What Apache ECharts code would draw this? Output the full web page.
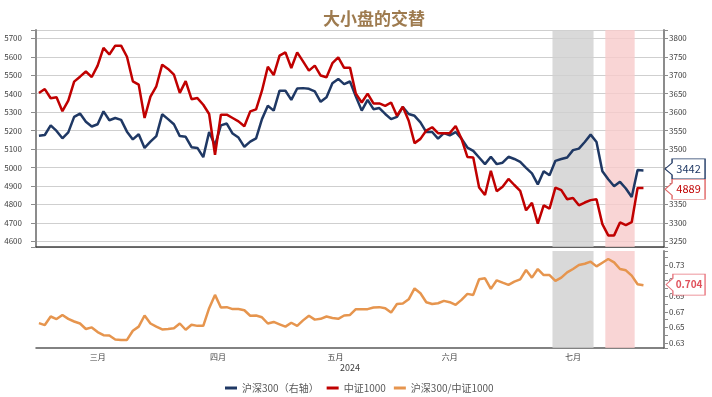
<!DOCTYPE html>
<html>
<head>
<meta charset="utf-8">
<script src="https://cdn.jsdelivr.net/npm/echarts@6/dist/echarts.min.js"></script>
<style>
  html, body { margin: 0; padding: 0; background: #fff; }
  #chart { width: 712px; height: 397px; }
</style>
</head>
<body>
<div id="chart"></div>
<script>
// trading days 2024-03-01 .. 2024-08-06
const holidays = ['2024-04-04', '2024-04-05', '2024-05-01', '2024-05-02', '2024-05-03', '2024-06-10'];
const monthNames = { '03': '三月', '04': '四月', '05': '五月', '06': '六月', '07': '七月' };

// 沪深300 (right axis)
const hs300 = [
  3536, 3538, 3564, 3549, 3529, 3545, 3587, 3596, 3574, 3561, 3567, 3602, 3578, 3584, 3579, 3547, 3526, 3540, 3503, 3520, 3535,
  3594, 3581, 3567, 3535, 3533, 3505, 3503, 3478, 3546, 3510, 3564, 3569, 3542, 3531, 3506, 3520, 3529, 3581, 3617, 3604,
  3658, 3658, 3633, 3664, 3665, 3663, 3656, 3628, 3640, 3678, 3690, 3676, 3683, 3642, 3604, 3633, 3608, 3611, 3595, 3581,
  3587, 3614, 3595, 3590, 3572, 3546, 3546, 3528, 3543, 3537, 3546, 3528, 3504, 3495, 3477, 3459, 3479, 3459, 3463,
  3479, 3473, 3465, 3449, 3434, 3404, 3440, 3429, 3468, 3473, 3477, 3497, 3501, 3519, 3539, 3519, 3440, 3418, 3399, 3411, 3393, 3370, 3443,
  3442
];
// 中证1000 (left axis)
const zz1000 = [
  5404, 5425, 5375, 5380, 5305, 5362, 5465, 5492, 5520, 5490, 5552, 5648, 5612, 5660, 5660, 5600, 5467, 5449, 5268, 5384, 5440,
  5557, 5534, 5503, 5404, 5468, 5370, 5376, 5340, 5290, 5069, 5286, 5286, 5268, 5250, 5223, 5304, 5315, 5416, 5546, 5501,
  5606, 5624, 5539, 5624, 5575, 5525, 5552, 5498, 5489, 5565, 5597, 5540, 5541, 5400, 5352, 5400, 5347, 5347, 5334, 5352,
  5280, 5329, 5253, 5132, 5155, 5200, 5218, 5186, 5186, 5186, 5225, 5155, 5057, 5054, 4892, 4851, 4982, 4871, 4896,
  4938, 4905, 4873, 4768, 4808, 4696, 4795, 4777, 4891, 4877, 4828, 4835, 4795, 4810, 4823, 4828, 4693, 4632, 4632, 4702, 4688, 4704, 4889,
  4889
];
// 沪深300/中证1000
const ratio = [
  0.6555, 0.653, 0.664, 0.6607, 0.666, 0.661, 0.6576, 0.655, 0.648, 0.650, 0.644, 0.640, 0.6396, 0.6346, 0.634, 0.634, 0.6457, 0.651, 0.6653, 0.655, 0.651,
  0.6474, 0.648, 0.649, 0.655, 0.647, 0.6534, 0.652, 0.652, 0.6747, 0.6917, 0.6755, 0.676, 0.6735, 0.6735, 0.672, 0.665, 0.6653, 0.663, 0.655, 0.657,
  0.654, 0.651, 0.656, 0.652, 0.659, 0.665, 0.660, 0.661, 0.664, 0.662, 0.661, 0.6653, 0.666, 0.6734, 0.6734, 0.6734, 0.6755, 0.676, 0.6747, 0.669,
  0.680, 0.6806, 0.686, 0.700, 0.6938, 0.6823, 0.680, 0.681, 0.684, 0.6823, 0.679, 0.6853, 0.693, 0.6917, 0.7117, 0.713, 0.6994, 0.7104, 0.7074,
  0.7045, 0.7087, 0.7117, 0.7236, 0.7138, 0.7249, 0.7172, 0.7172, 0.7096, 0.7138, 0.7206, 0.7249, 0.730, 0.7317, 0.7343, 0.7283, 0.733, 0.7377, 0.7334, 0.7249, 0.7232, 0.7164, 0.7053,
  0.704
];
const grayPeriod = ['2024-07-11', '2024-07-19'];
const pinkPeriod = ['2024-07-24', '2024-07-30'];

const dates = [];
for (let d = new Date(Date.UTC(2024, 2, 1)); d <= new Date(Date.UTC(2024, 7, 6)); d.setUTCDate(d.getUTCDate() + 1)) {
  const s = d.toISOString().slice(0, 10);
  const wd = d.getUTCDay();
  if (wd === 0 || wd === 6 || holidays.includes(s)) continue;
  dates.push(s);
}

// month boundaries + label slots
const monthStart = [];
const labelAt = {};
dates.forEach((s, i) => { if (i === 0 || s.slice(5, 7) !== dates[i - 1].slice(5, 7)) monthStart.push(i); });
monthStart.forEach((st, k) => {
  const m = dates[st].slice(5, 7);
  if (!monthNames[m]) return;
  const n = (monthStart[k + 1] || dates.length) - st;
  if (n % 2) labelAt[st + (n - 1) / 2] = monthNames[m];
  else labelAt[st + n / 2 - 1] = '{s|' + monthNames[m] + '}';
});

const callout = 'path://M0,10L7,4L7,0L40,0L40,20L7,20L7,16Z';
const lastCat = dates[dates.length - 1];
const font = "'Microsoft YaHei', 'Noto Sans CJK SC', sans-serif";

const chart = echarts.init(document.getElementById('chart'));

const option = {
  animation: false,
  textStyle: { fontFamily: font },
  title: {
    text: '大小盘的交替',
    left: 318,
    top: 5,
    textStyle: { fontSize: 17, fontWeight: 'bold', color: '#9e7b4f', fontFamily: font }
  },
  legend: {
    data: ['沪深300（右轴）', '中证1000', '沪深300/中证1000'],
    left: 225,
    top: 383,
    padding: 0,
    icon: 'rect',
    itemWidth: 12,
    itemHeight: 3,
    itemGap: 8,
    textStyle: { fontSize: 10, color: '#595959' }
  },
  grid: [
    { left: 36, right: 48, top: 30, height: 217 },
    { left: 36, right: 48, top: 251, height: 97 }
  ],
  xAxis: [
    {
      type: 'category', gridIndex: 0, data: dates, boundaryGap: true,
      axisLine: { onZero: false, lineStyle: { color: '#404040', width: 1.5 } },
      axisTick: { show: false }, axisLabel: { show: false }
    },
    {
      type: 'category', gridIndex: 1, data: dates, boundaryGap: true,
      axisLine: { onZero: false, lineStyle: { color: '#595959', width: 1.5 } },
      axisTick: { interval: (i) => monthStart.includes(i), length: 4, lineStyle: { color: '#595959' } },
      axisLabel: {
        interval: (i) => labelAt[i] !== undefined,
        formatter: (v, i) => labelAt[i] || '',
        fontSize: 8, color: '#404040', margin: 5,
        rich: { s: { fontSize: 8, color: '#404040', padding: [0, 0, 0, 6] } }
      },
      name: '2024', nameLocation: 'middle', nameGap: 15,
      nameTextStyle: { fontSize: 9, color: '#404040' }
    },
    { type: 'value', gridIndex: 0, min: 0, max: dates.length, show: false },
    { type: 'value', gridIndex: 1, min: 0, max: dates.length, show: false }
  ],
  yAxis: [
    {
      type: 'value', gridIndex: 0, position: 'left', min: 4569, max: 5745, splitNumber: 12,
      axisLine: { show: true, onZero: false, lineStyle: { color: '#8c8c8c', width: 2 } },
      axisTick: { show: true, length: 5, lineStyle: { color: '#8c8c8c' } },
      axisLabel: { fontSize: 8, color: '#404040', margin: 14, formatter: (v) => (v % 100 === 0 ? v : '') },
      splitLine: { show: true, lineStyle: { color: '#cfcfcf', width: 1 } }
    },
    {
      type: 'value', gridIndex: 0, position: 'right', min: 3234.5, max: 3822.5, splitNumber: 12,
      axisLine: { show: true, onZero: false, lineStyle: { color: '#8c8c8c', width: 2 } },
      axisTick: { show: true, length: 4, lineStyle: { color: '#8c8c8c' } },
      axisLabel: { fontSize: 8, color: '#404040', margin: 5, formatter: (v) => (v % 50 === 0 ? v : '') },
      splitLine: { show: false }
    },
    {
      type: 'value', gridIndex: 1, position: 'right', min: 0.6236, max: 0.748, splitNumber: 12,
      axisLine: { show: true, onZero: false, lineStyle: { color: '#8c8c8c', width: 2 } },
      axisTick: { show: true, length: 4, lineStyle: { color: '#8c8c8c' } },
      axisLabel: {
        fontSize: 8, color: '#404040', margin: 5,
        formatter: (v) => {
          const k = Math.round(v * 100);
          return Math.abs(v * 100 - k) < 1e-6 && k % 2 === 1 ? v.toFixed(2) : '';
        }
      },
      splitLine: { show: false }
    }
  ],
  series: [
    {
      name: 'bands-top', type: 'line', xAxisIndex: 2, yAxisIndex: 0, data: [], silent: true,
      markArea: {
        silent: true,
        data: [
          [{ xAxis: dates.indexOf(grayPeriod[0]), itemStyle: { color: 'rgba(207,207,207,0.8)' } }, { xAxis: dates.indexOf(grayPeriod[1]) + 1 }],
          [{ xAxis: dates.indexOf(pinkPeriod[0]), itemStyle: { color: 'rgba(248,202,202,0.8)' } }, { xAxis: dates.indexOf(pinkPeriod[1]) + 1 }]
        ]
      }
    },
    {
      name: 'bands-bottom', type: 'line', xAxisIndex: 3, yAxisIndex: 2, data: [], silent: true,
      markArea: {
        silent: true,
        data: [
          [{ xAxis: dates.indexOf(grayPeriod[0]), itemStyle: { color: 'rgba(207,207,207,0.8)' } }, { xAxis: dates.indexOf(grayPeriod[1]) + 1 }],
          [{ xAxis: dates.indexOf(pinkPeriod[0]), itemStyle: { color: 'rgba(248,202,202,0.8)' } }, { xAxis: dates.indexOf(pinkPeriod[1]) + 1 }]
        ]
      }
    },
    {
      name: '沪深300（右轴）', type: 'line', xAxisIndex: 0, yAxisIndex: 1, data: hs300,
      symbol: 'none', color: '#1f3864', lineStyle: { width: 2.5, color: '#1f3864' },
      markPoint: {
        silent: true,
        symbol: callout, symbolSize: [40, 20], symbolOffset: [24, -1.5],
        itemStyle: { color: '#fff', borderColor: '#1f3864', borderWidth: 1 },
        label: { show: true, position: 'inside', offset: [3.5, 0], color: '#1f3864', fontSize: 11, formatter: '{c}' },
        data: [{ coord: [lastCat, hs300[hs300.length - 1]], value: hs300[hs300.length - 1] }]
      }
    },
    {
      name: '中证1000', type: 'line', xAxisIndex: 0, yAxisIndex: 0, data: zz1000,
      symbol: 'none', color: '#c00000', lineStyle: { width: 2.5, color: '#c00000' },
      markPoint: {
        silent: true,
        symbol: callout, symbolSize: [40, 20], symbolOffset: [24, 1.3],
        itemStyle: { color: '#fff', borderColor: '#e06666', borderWidth: 1 },
        label: { show: true, position: 'inside', offset: [3.5, 0], color: '#c00000', fontSize: 11, formatter: '{c}' },
        data: [{ coord: [lastCat, zz1000[zz1000.length - 1]], value: zz1000[zz1000.length - 1] }]
      }
    },
    {
      name: '沪深300/中证1000', type: 'line', xAxisIndex: 1, yAxisIndex: 2, data: ratio,
      symbol: 'none', color: '#e6954e', lineStyle: { width: 2.5, color: '#e6954e' },
      markPoint: {
        silent: true,
        symbol: callout, symbolSize: [39, 21], symbolOffset: [24.5, -0.7],
        itemStyle: { color: '#fff', borderColor: '#e8737c', borderWidth: 1 },
        label: { show: true, position: 'inside', offset: [3.5, 0], color: '#e0505a', fontSize: 10, fontWeight: 'bold', formatter: '{c}' },
        data: [{ coord: [lastCat, ratio[ratio.length - 1]], value: ratio[ratio.length - 1] }]
      }
    }
  ]
};

chart.setOption(option);
</script>
</body>
</html>
